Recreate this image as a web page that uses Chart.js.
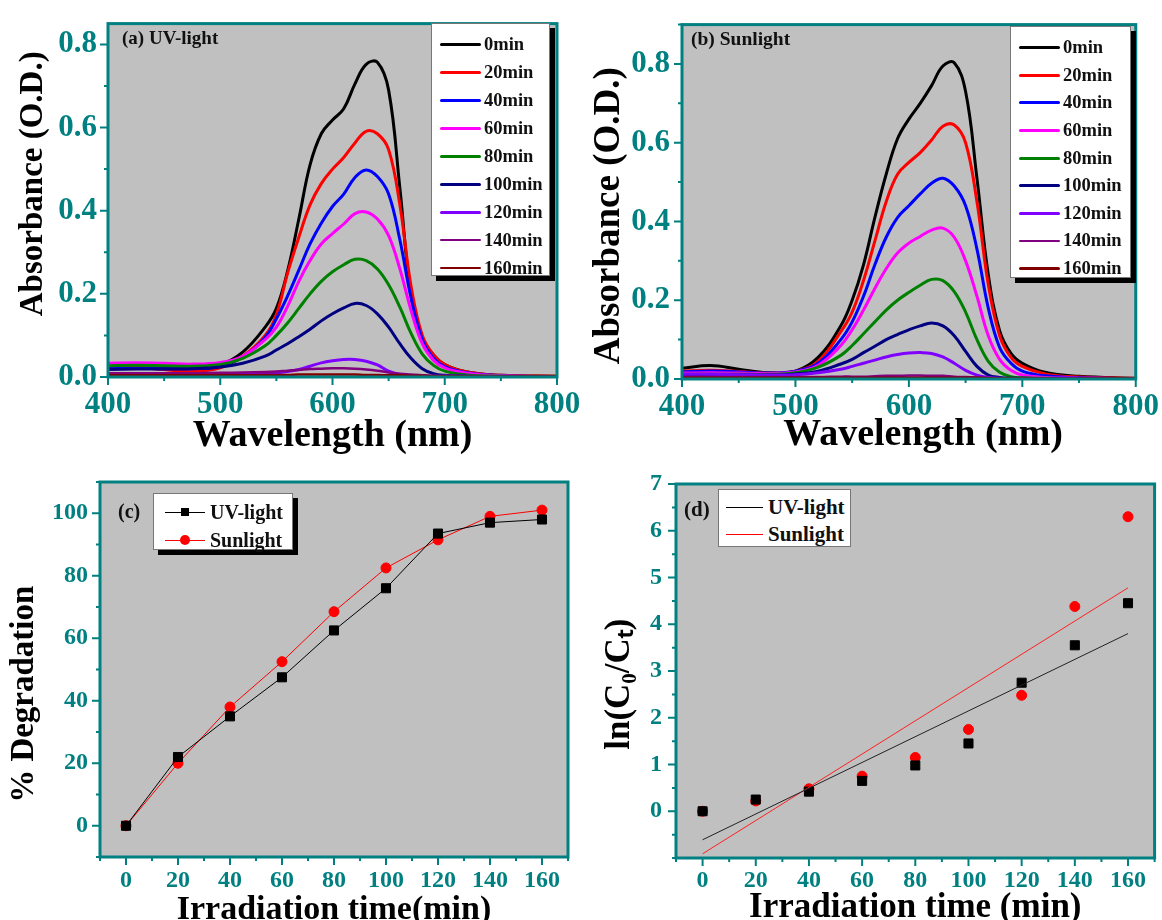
<!DOCTYPE html>
<html>
<head>
<meta charset="utf-8">
<script src="https://cdn.jsdelivr.net/npm/chart.js@4.4.1/dist/chart.umd.min.js"></script>
<style>
    html, body { margin: 0; padding: 0; background: #fff; overflow: hidden; }
    body { width: 1162px; height: 920px; position: relative; }
    .panel { position: absolute; }
    .panel canvas { display: block; }
    .tag { position: absolute; font-family: "Liberation Serif", serif; font-weight: bold; color: #111; line-height: 1; white-space: nowrap; }
    .legend { position: absolute; background: #fff; border: 1px solid #777; box-sizing: border-box; font-family: "Liberation Serif", serif; font-weight: bold; color: #111; }
    .legend.shadow { box-shadow: 5px 5px 0 #000; }
    .legend .row { display: flex; align-items: center; white-space: nowrap; }
    .legend .swatch { position: relative; flex: none; }
    .legend .dot { position: absolute; top: 50%; left: 50%; transform: translate(-50%, -50%); }
</style>
</head>
<body>
<div class="panel" style="left:0;top:0;">
    <canvas id="chart_a" width="600" height="460"></canvas>
    <div class="tag" style="left:122px;top:28px;font-size:19px;">(a) UV-light</div>
    <div class="legend shadow" id="legend_a" style="left:431px;top:23px;width:119px;height:253px;padding-top:7px;"></div>
</div>
<div class="panel" style="left:580px;top:0;">
    <canvas id="chart_b" width="582" height="460"></canvas>
    <div class="tag" style="left:111px;top:29px;font-size:19.5px;">(b) Sunlight</div>
    <div class="legend shadow" id="legend_b" style="left:430px;top:26px;width:121px;height:252px;padding-top:7px;"></div>
</div>
<div class="panel" style="left:0;top:460px;">
    <canvas id="chart_c" width="600" height="460"></canvas>
    <div class="tag" style="left:118px;top:41px;font-size:20px;">(c)</div>
    <div class="legend shadow" id="legend_c" style="left:153px;top:33px;width:140px;height:57px;padding-top:4px;"></div>
</div>
<div class="panel" style="left:580px;top:460px;">
    <canvas id="chart_d" width="582" height="460"></canvas>
    <div class="tag" style="left:104px;top:39px;font-size:21px;">(d)</div>
    <div class="legend" id="legend_d" style="left:138px;top:29px;width:133px;height:58px;padding-top:4px;"></div>
</div>
<script>
    const SERIF = '"Liberation Serif", "Times New Roman", serif';
    const TEAL = '#008080';

    // (a) and (b): absorption spectra
    const wavelength = [400, 425, 450, 475, 500, 520, 540, 550, 560, 570, 580, 590, 600, 610, 620, 630, 640, 650, 660, 670, 680, 690, 700, 720, 750, 800];
    const timeLabels = ['0min', '20min', '40min', '60min', '80min', '100min', '120min', '140min', '160min'];
    const curveColors = ['#000000', '#ff0000', '#0000ff', '#ff00ff', '#008000', '#000080', '#8000ff', '#800080', '#800000'];
    const curveWidths = [3, 3, 3, 3, 3, 3, 3, 2.5, 2.5];

    const uv0 = [0.025, 0.026, 0.024, 0.022, 0.030, 0.060, 0.120, 0.165, 0.255, 0.380, 0.510, 0.585, 0.618, 0.645, 0.705, 0.752, 0.757, 0.690, 0.455, 0.195, 0.095, 0.053, 0.030, 0.012, 0.004, 0.002];
    const uv20 = [0.025, 0.024, 0.018, 0.013, 0.022, 0.050, 0.100, 0.150, 0.250, 0.336, 0.414, 0.465, 0.500, 0.528, 0.563, 0.591, 0.585, 0.547, 0.414, 0.218, 0.100, 0.053, 0.030, 0.012, 0.004, 0.002];
    const uv40 = [0.020, 0.021, 0.020, 0.020, 0.025, 0.048, 0.095, 0.140, 0.195, 0.257, 0.320, 0.370, 0.410, 0.440, 0.480, 0.498, 0.482, 0.440, 0.330, 0.190, 0.090, 0.045, 0.025, 0.010, 0.003, 0.001];
    const uv60 = [0.033, 0.034, 0.033, 0.031, 0.035, 0.050, 0.090, 0.120, 0.170, 0.230, 0.280, 0.320, 0.345, 0.368, 0.393, 0.397, 0.380, 0.340, 0.260, 0.160, 0.080, 0.040, 0.022, 0.009, 0.003, 0.001];
    const uv80 = [0.027, 0.028, 0.027, 0.026, 0.030, 0.045, 0.075, 0.100, 0.130, 0.165, 0.200, 0.230, 0.253, 0.270, 0.283, 0.280, 0.260, 0.222, 0.168, 0.105, 0.055, 0.028, 0.014, 0.005, 0.002, 0.001];
    const uv100 = [0.018, 0.019, 0.019, 0.020, 0.024, 0.033, 0.050, 0.065, 0.080, 0.097, 0.115, 0.135, 0.152, 0.166, 0.177, 0.172, 0.152, 0.120, 0.080, 0.045, 0.020, 0.008, 0.004, 0.002, 0.001, 0.001];
    const uv120 = [0.008, 0.008, 0.008, 0.008, 0.008, 0.008, 0.009, 0.010, 0.013, 0.018, 0.026, 0.034, 0.039, 0.042, 0.042, 0.038, 0.029, 0.014, 0.006, 0.003, 0.002, 0.002, 0.002, 0.002, 0.001, 0.001];
    const uv140 = [0.009, 0.009, 0.009, 0.009, 0.010, 0.011, 0.012, 0.013, 0.015, 0.017, 0.019, 0.020, 0.021, 0.021, 0.020, 0.018, 0.015, 0.011, 0.008, 0.006, 0.004, 0.003, 0.003, 0.002, 0.001, 0.001];
    const uv160 = [0.004, 0.004, 0.004, 0.004, 0.004, 0.004, 0.005, 0.005, 0.005, 0.006, 0.006, 0.006, 0.006, 0.006, 0.006, 0.005, 0.005, 0.004, 0.004, 0.003, 0.003, 0.002, 0.002, 0.002, 0.001, 0.001];

    const sun0 = [0.027, 0.034, 0.025, 0.016, 0.020, 0.055, 0.135, 0.200, 0.290, 0.410, 0.520, 0.610, 0.660, 0.700, 0.745, 0.795, 0.803, 0.730, 0.510, 0.265, 0.123, 0.065, 0.040, 0.017, 0.007, 0.002];
    const sun20 = [0.020, 0.022, 0.019, 0.015, 0.020, 0.045, 0.120, 0.170, 0.250, 0.350, 0.450, 0.520, 0.550, 0.575, 0.607, 0.642, 0.645, 0.600, 0.450, 0.240, 0.110, 0.055, 0.032, 0.013, 0.005, 0.002];
    const sun40 = [0.018, 0.020, 0.018, 0.015, 0.020, 0.040, 0.100, 0.145, 0.210, 0.290, 0.360, 0.410, 0.440, 0.470, 0.497, 0.510, 0.490, 0.440, 0.330, 0.180, 0.080, 0.040, 0.020, 0.008, 0.003, 0.001];
    const sun60 = [0.015, 0.016, 0.015, 0.014, 0.018, 0.035, 0.085, 0.125, 0.175, 0.230, 0.280, 0.320, 0.345, 0.362, 0.378, 0.383, 0.360, 0.300, 0.210, 0.110, 0.050, 0.022, 0.010, 0.004, 0.002, 0.001];
    const sun80 = [0.012, 0.012, 0.012, 0.012, 0.016, 0.030, 0.060, 0.085, 0.115, 0.145, 0.175, 0.200, 0.220, 0.238, 0.253, 0.250, 0.222, 0.170, 0.100, 0.045, 0.017, 0.006, 0.003, 0.002, 0.001, 0.001];
    const sun100 = [0.010, 0.010, 0.010, 0.010, 0.013, 0.020, 0.038, 0.050, 0.067, 0.083, 0.100, 0.113, 0.125, 0.135, 0.142, 0.135, 0.110, 0.070, 0.032, 0.010, 0.004, 0.002, 0.002, 0.001, 0.001, 0.001];
    const sun120 = [0.012, 0.012, 0.011, 0.010, 0.011, 0.016, 0.025, 0.032, 0.040, 0.048, 0.056, 0.062, 0.066, 0.067, 0.065, 0.056, 0.040, 0.022, 0.010, 0.004, 0.002, 0.001, 0.001, 0.001, 0.001, 0.001];
    const sun140 = [0.005, 0.005, 0.005, 0.005, 0.005, 0.005, 0.006, 0.006, 0.006, 0.007, 0.008, 0.008, 0.009, 0.009, 0.008, 0.008, 0.006, 0.005, 0.004, 0.003, 0.002, 0.002, 0.002, 0.001, 0.001, 0.001];
    const sun160 = [0.003, 0.003, 0.003, 0.003, 0.003, 0.003, 0.003, 0.003, 0.003, 0.003, 0.003, 0.003, 0.003, 0.003, 0.003, 0.003, 0.003, 0.003, 0.003, 0.002, 0.002, 0.002, 0.002, 0.001, 0.001, 0.001];

    const uvSpectra = [uv0, uv20, uv40, uv60, uv80, uv100, uv120, uv140, uv160];
    const sunSpectra = [sun0, sun20, sun40, sun60, sun80, sun100, sun120, sun140, sun160];

    // (c) and (d): kinetics
    const irradiationTime = [0, 20, 40, 60, 80, 100, 120, 140, 160];
    const uvDegradation = [0, 22, 35, 47.5, 62.5, 76, 93.5, 97, 98];
    const sunDegradation = [0, 20, 38, 52.5, 68.5, 82.5, 91.5, 99, 101];
    const uvLnRatio = [0, 0.25, 0.42, 0.65, 0.98, 1.45, 2.75, 3.55, 4.45];
    const sunLnRatio = [0, 0.22, 0.48, 0.75, 1.15, 1.75, 2.48, 4.38, 6.3];
    const fitTime = [0, 160];
    const uvFit = [-0.61, 3.80];
    const sunFit = [-0.91, 4.78];

    // grey plot area, teal box, and outward ticks (long where a label is shown)
    const frame = {
        id: 'frame',
        beforeDraw(chart) {
            const {ctx, chartArea: a} = chart;
            ctx.save();
            ctx.fillStyle = '#c0c0c0';
            ctx.fillRect(a.left, a.top, a.width, a.height);
            ctx.restore();
        },
        afterDraw(chart) {
            const {ctx, chartArea: a} = chart;
            ctx.save();
            ctx.strokeStyle = TEAL;
            ctx.lineWidth = 2;
            ctx.beginPath();
            chart.scales.x.ticks.forEach((t) => {
                const px = chart.scales.x.getPixelForValue(t.value);
                ctx.moveTo(px, a.bottom);
                ctx.lineTo(px, a.bottom + (t.label !== '' ? 8 : 4));
            });
            chart.scales.y.ticks.forEach((t) => {
                const py = chart.scales.y.getPixelForValue(t.value);
                ctx.moveTo(a.left, py);
                ctx.lineTo(a.left - (t.label !== '' ? 8 : 4), py);
            });
            ctx.stroke();
            ctx.lineWidth = 3;
            ctx.strokeRect(a.left, a.top, a.width, a.height);
            ctx.restore();
        }
    };

    function points(xs, ys) {
        return xs.map((x, i) => ({x: x, y: ys[i]}));
    }

    function isStep(v, step) {
        const q = v / step;
        return Math.abs(q - Math.round(q)) < 1e-6;
    }

    function axis(opts) {
        return {
            type: 'linear',
            min: opts.min,
            max: opts.max,
            afterFit: opts.fit,
            border: {display: false},
            grid: {
                drawOnChartArea: false,
                drawTicks: true,
                tickLength: 6,
                tickColor: 'rgba(0,0,0,0)'
            },
            ticks: {
                stepSize: opts.step,
                includeBounds: false,
                maxTicksLimit: 100,
                autoSkip: false,
                maxRotation: 0,
                padding: opts.pad,
                color: TEAL,
                font: {family: SERIF, weight: 'bold', size: opts.tickSize},
                callback: opts.label
            },
            title: {
                display: true,
                text: opts.title,
                color: '#000',
                font: {family: SERIF, weight: 'bold', size: opts.titleSize},
                padding: opts.titlePad
            }
        };
    }

    function spectraChart(id, spectra, yMax, layout) {
        return new Chart(document.getElementById(id), {
            type: 'line',
            data: {
                datasets: spectra.map((s, i) => ({
                    label: timeLabels[i],
                    data: points(wavelength, s),
                    borderColor: curveColors[i],
                    borderWidth: curveWidths[i],
                    pointRadius: 0,
                    tension: 0.4
                })).reverse()
            },
            options: {
                responsive: false,
                animation: false,
                layout: {padding: layout.padding},
                plugins: {legend: {display: false}, tooltip: {enabled: false}},
                scales: {
                    x: axis({
                        min: 400, max: 800, step: 50, pad: 3, tickSize: 31,
                        fit: (s) => { s.height = layout.xHeight; },
                        label: (v) => v % 100 === 0 ? String(v) : '',
                        title: layout.xTitle, titleSize: 38, titlePad: {top: 0, bottom: layout.xTitlePad}
                    }),
                    y: axis({
                        min: 0, max: yMax, step: 0.1, pad: layout.yPad, tickSize: 31,
                        fit: (s) => { s.width = layout.yWidth; },
                        label: (v) => {
                            const t = Math.round(v * 10);
                            return (isStep(v, 0.1) && t % 2 === 0) ? (t / 10).toFixed(1) : '';
                        },
                        title: layout.yTitle, titleSize: layout.yTitleSize, titlePad: {top: layout.yTitlePad, bottom: 0}
                    })
                }
            },
            plugins: [frame]
        });
    }

    spectraChart('chart_a', uvSpectra, 0.85, {
        padding: {left: 0, right: 43, top: 15, bottom: 0},
        xHeight: 83, yWidth: 108, yPad: 5,
        xTitle: 'Wavelength (nm)', xTitlePad: 1,
        yTitle: '    Absorbance (O.D.)', yTitleSize: 33, yTitlePad: 14
    });
    spectraChart('chart_b', sunSpectra, 0.9, {
        padding: {left: 0, right: 25, top: 18, bottom: 0},
        xHeight: 81, yWidth: 102, yPad: 6,
        xTitle: '   Wavelength (nm)', xTitlePad: 2,
        yTitle: 'Absorbance (O.D.)   ', yTitleSize: 37, yTitlePad: 7
    });

    const timeAxis = (fit, pad, title, size, titlePad) => axis({
        min: -10, max: 170, step: 10, pad: pad, tickSize: 24,
        fit: fit,
        label: (v) => (v % 20 === 0 && v >= 0 && v <= 160) ? String(v) : '',
        title: title, titleSize: size, titlePad: titlePad
    });

    new Chart(document.getElementById('chart_c'), {
        type: 'line',
        data: {
            datasets: [{
                label: 'UV-light',
                data: points(irradiationTime, uvDegradation),
                borderColor: '#000',
                backgroundColor: '#000',
                borderWidth: 1,
                pointStyle: 'rect',
                pointRadius: 6.4
            }, {
                label: 'Sunlight',
                data: points(irradiationTime, sunDegradation),
                borderColor: '#ff0000',
                backgroundColor: '#ff0000',
                borderWidth: 1,
                pointStyle: 'circle',
                pointRadius: 5
            }]
        },
        options: {
            responsive: false,
            animation: false,
            layout: {padding: {left: 0, right: 32, top: 22, bottom: 0}},
            plugins: {legend: {display: false}, tooltip: {enabled: false}},
            scales: {
                x: timeAxis((s) => { s.height = 63; }, 3, 'Irradiation time(min)', 34, {top: 0, bottom: -11}),
                y: axis({
                    min: -10, max: 110, step: 10, pad: 6, tickSize: 24,
                    fit: (s) => { s.width = 100; },
                    label: (v) => (v % 20 === 0 && v >= 0 && v <= 100) ? String(v) : '',
                    title: '% Degradation      ', titleSize: 33, titlePad: {top: 5, bottom: 0}
                })
            }
        },
        plugins: [frame]
    });

    new Chart(document.getElementById('chart_d'), {
        type: 'line',
        data: {
            datasets: [{
                label: 'UV-light fit',
                data: points(fitTime, uvFit),
                borderColor: '#222',
                borderWidth: 1,
                pointRadius: 0
            }, {
                label: 'Sunlight fit',
                data: points(fitTime, sunFit),
                borderColor: '#ff2020',
                borderWidth: 1,
                pointRadius: 0
            }, {
                label: 'UV-light',
                data: points(irradiationTime, uvLnRatio),
                showLine: false,
                backgroundColor: '#000',
                borderColor: '#000',
                pointStyle: 'rect',
                pointRadius: 6.4
            }, {
                label: 'Sunlight',
                data: points(irradiationTime, sunLnRatio),
                showLine: false,
                backgroundColor: '#ff0000',
                borderColor: '#ff0000',
                pointStyle: 'circle',
                pointRadius: 5
            }]
        },
        options: {
            responsive: false,
            animation: false,
            layout: {padding: {left: 0, right: 5, top: 24, bottom: 0}},
            plugins: {legend: {display: false}, tooltip: {enabled: false}},
            scales: {
                x: timeAxis((s) => { s.height = 62; }, 2, 'Irradiation time (min)', 35, {top: 0, bottom: -9}),
                y: axis({
                    min: -1, max: 7, step: 0.5, pad: 8, tickSize: 24,
                    fit: (s) => { s.width = 96; },
                    label: (v) => (isStep(v, 1) && v >= 0) ? String(Math.round(v)) : '',
                    title: 'ln(C\u2080/C\u209C)   ', titleSize: 35, titlePad: {top: 19, bottom: 0}
                })
            }
        },
        plugins: [frame]
    });

    // legends
    function spectraLegend(id, rowHeight) {
        const box = document.getElementById(id);
        timeLabels.forEach((label, i) => {
            const row = document.createElement('div');
            row.className = 'row';
            row.style.height = rowHeight + 'px';
            row.style.fontSize = '18.5px';
            const sw = document.createElement('span');
            sw.className = 'swatch';
            sw.style.cssText = 'width:41px;height:' + curveWidths[i] + 'px;margin:0 3px 0 8px;border-radius:2px;background:' + curveColors[i];
            row.appendChild(sw);
            row.appendChild(document.createTextNode(label));
            box.appendChild(row);
        });
    }
    spectraLegend('legend_a', 27.9);
    spectraLegend('legend_b', 27.6);

    function kineticsLegend(id, rowHeight, fontSize, lineLeft, lineWidth, withMarkers) {
        const box = document.getElementById(id);
        [['UV-light', '#000', 'rect'], ['Sunlight', '#ff0000', 'circle']].forEach(([label, color, shape]) => {
            const row = document.createElement('div');
            row.className = 'row';
            row.style.height = rowHeight + 'px';
            row.style.fontSize = fontSize + 'px';
            const sw = document.createElement('span');
            sw.className = 'swatch';
            sw.style.cssText = 'width:' + lineWidth + 'px;height:1px;margin:0 5px 0 ' + lineLeft + 'px;background:' + color;
            if (withMarkers) {
                const dot = document.createElement('span');
                dot.className = 'dot';
                dot.style.cssText = shape === 'circle'
                    ? 'width:10px;height:10px;border-radius:50%;background:' + color
                    : 'width:8px;height:8px;background:' + color;
                sw.appendChild(dot);
            }
            row.appendChild(sw);
            row.appendChild(document.createTextNode(label));
            box.appendChild(row);
        });
    }
    kineticsLegend('legend_c', 28, 20, 11, 40, true);
    kineticsLegend('legend_d', 27, 21, 7, 37, false);
</script>
</body>
</html>
